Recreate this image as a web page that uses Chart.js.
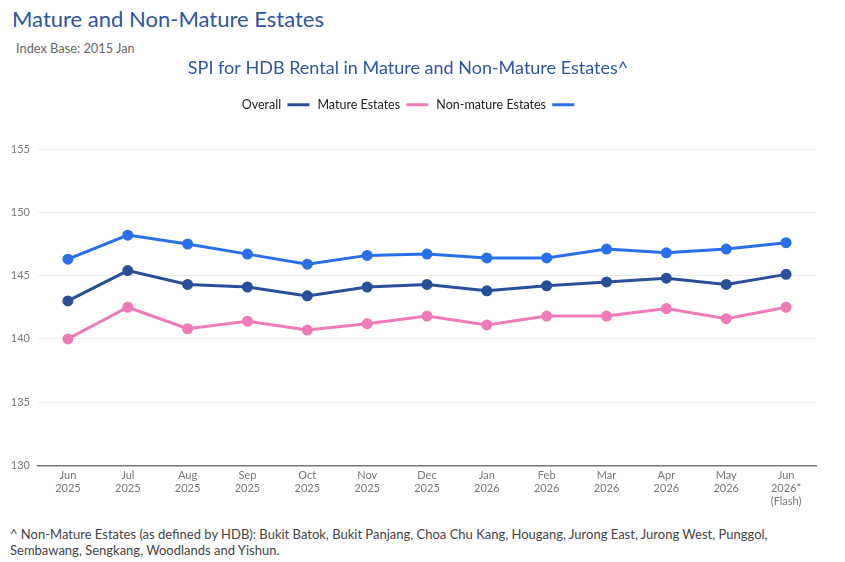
<!DOCTYPE html>
<html>
<head>
<meta charset="utf-8">
<script src="https://cdn.jsdelivr.net/npm/chart.js@4.4.1/dist/chart.umd.min.js"></script>
<style>
  body { margin: 0; background: #fff; font-family: Lato, "Noto Sans", sans-serif; }
  #page { position: relative; width: 845px; height: 562px; overflow: hidden; }
  #heading { position: absolute; left: 12px; top: 5px; font-size: 22px; color: #2f56a0; }
  #base { position: absolute; left: 16px; top: 40px; font-size: 12.8px; color: #666; }
  #wrap { position: absolute; left: 0; top: 55px; width: 845px; height: 456px; }
  #note { position: absolute; left: 10px; top: 526px; font-size: 13px; color: #444; line-height: 16px; }
</style>
</head>
<body>
<div id="page">
  <div id="heading">Mature and Non-Mature Estates</div>
  <div id="base">Index Base: 2015 Jan</div>
  <div id="wrap"><canvas id="grafik"></canvas></div>
  <div id="note">^ Non-Mature Estates (as defined by HDB): Bukit Batok, Bukit Panjang, Choa Chu Kang, Hougang, Jurong East, Jurong West, Punggol,<br>Sembawang, Sengkang, Woodlands and Yishun.</div>
</div>
<script>
const bulan = [
  ["Jun", "2025"], ["Jul", "2025"], ["Aug", "2025"], ["Sep", "2025"], ["Oct", "2025"],
  ["Nov", "2025"], ["Dec", "2025"], ["Jan", "2026"], ["Feb", "2026"], ["Mar", "2026"],
  ["Apr", "2026"], ["May", "2026"], ["Jun", "2026*", "(Flash)"]
];
const overall = [143.0, 145.4, 144.3, 144.1, 143.4, 144.1, 144.3, 143.8, 144.2, 144.5, 144.8, 144.3, 145.1];
const mature = [140.0, 142.5, 140.8, 141.4, 140.7, 141.2, 141.8, 141.1, 141.8, 141.8, 142.4, 141.6, 142.5];
const nonMature = [146.3, 148.2, 147.5, 146.7, 145.9, 146.6, 146.7, 146.4, 146.4, 147.1, 146.8, 147.1, 147.6];
const yTicks = [130, 135, 140, 145, 150, 155];

const fontName = "Lato, 'Noto Sans', sans-serif";

function seri(label, data, warna) {
  return {
    label: label,
    data: data,
    borderColor: warna,
    backgroundColor: warna,
    pointBackgroundColor: warna,
    pointBorderColor: warna,
    borderWidth: 3,
    pointRadius: 4,
    pointHoverRadius: 5,
    tension: 0
  };
}

// kasih jarak ekstra di bawah legend
const legendGap = {
  id: "legendGap",
  beforeInit(chart) {
    const fitAsli = chart.legend.fit;
    chart.legend.fit = function () {
      fitAsli.bind(chart.legend)();
      this.height += 28;
    };
  }
};

const ctx = document.getElementById("grafik").getContext("2d");
window.grafikChart = new Chart(ctx, {
  type: "line",
  data: {
    labels: bulan,
    datasets: [
      seri("Overall", overall, "#284f98"),
      seri("Mature Estates", mature, "#ef7bb9"),
      seri("Non-mature Estates", nonMature, "#2a6fea")
    ]
  },
  options: {
    responsive: true,
    maintainAspectRatio: false,
    animation: false,
    layout: { padding: { left: 0, right: 29, top: 0, bottom: 0 } },
    plugins: {
      title: {
        display: true,
        text: "SPI for HDB Rental in Mature and Non-Mature Estates^",
        color: "#2f56a0",
        font: { family: fontName, size: 18, weight: "normal" },
        padding: { top: 2, bottom: 12 }
      },
      legend: {
        rtl: true,
        reverse: true,
        textDirection: "ltr",
        labels: {
          color: "#222",
          font: { family: fontName, size: 12.5 },
          boxWidth: 22,
          boxHeight: 3,
          padding: 8,
          generateLabels: chart => {
            const items = Chart.defaults.plugins.legend.labels.generateLabels(chart);
            items.forEach(it => { it.lineWidth = 0; });
            return items;
          }
        }
      },
      tooltip: { enabled: false }
    },
    scales: {
      x: {
        offset: true,
        grid: { display: false, drawTicks: false },
        border: { display: true, color: "#777", width: 1.5 },
        ticks: {
          color: "#777",
          font: { family: fontName, size: 11 },
          maxRotation: 0,
          autoSkip: false,
          padding: 3
        }
      },
      y: {
        min: 130,
        max: 155,
        afterFit: s => { s.width = 38; },
        afterBuildTicks: s => { s.ticks = yTicks.map(v => ({ value: v })); },
        grid: { color: "#ececec", drawTicks: false },
        border: { display: false },
        ticks: {
          color: "#777",
          font: { family: fontName, size: 11 },
          padding: 8
        }
      }
    }
  },
  plugins: [legendGap]
});
</script>
</body>
</html>
